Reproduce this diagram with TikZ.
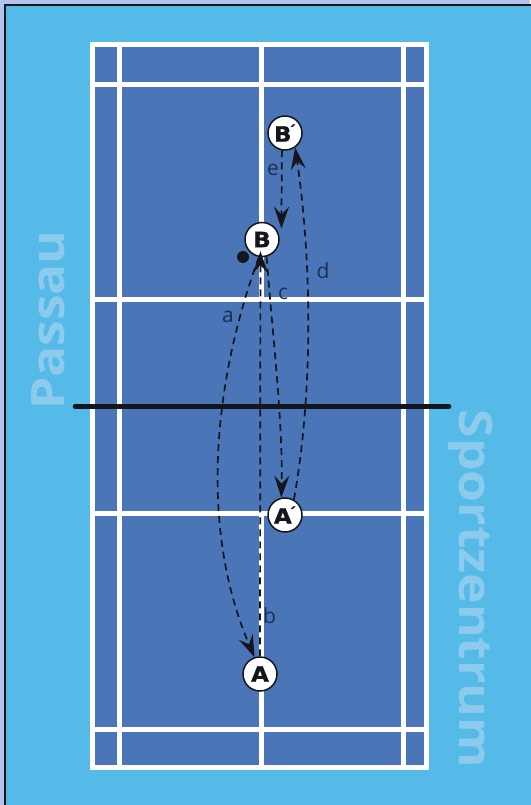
\documentclass[tikz,border=0pt]{standalone}
\usepackage{fontspec}
\setmainfont{Open Sans}
\newfontfamily\circfont[FakeStretch=1.1,FakeBold=1.2]{DejaVu Sans Bold}
\newfontfamily\wmfont[FakeStretch=1.12]{Open Sans Bold}
\usetikzlibrary{arrows.meta}
\definecolor{sky}{HTML}{56BAE8}
\definecolor{edgeblue}{HTML}{B2C5EA}
\definecolor{courtblue}{HTML}{4A75B7}
\definecolor{mark}{HTML}{8CCBEE}
\definecolor{inkblue}{HTML}{1D2F55}
\definecolor{inkblack}{HTML}{14161C}
\tikzset{
  courtline/.style={draw=white,line width=5pt},
  player/.style={circle,draw=inkblack,fill=white,line width=1.5pt,minimum size=34pt,inner sep=0pt,font=\circfont\fontsize{21}{21}\selectfont,text=inkblack},
  run/.style={draw=inkblack,line width=1.7pt,dash pattern=on 7pt off 5pt,-{Stealth[length=22pt,width=15pt,inset=8pt]}},
  lab/.style={text=inkblue,font=\fontsize{21}{21}\selectfont,inner sep=0pt},
  wmark/.style={text=mark,font=\wmfont\fontsize{46}{46}\selectfont,inner sep=0pt},
}
\newcommand{\primemark}{\raisebox{6pt}{\fontsize{14}{14}\selectfont\kern-1pt\'{}}}
\begin{document}
\begin{tikzpicture}[x=1pt,y=-1pt]
\useasboundingbox (0,0) rectangle (530,805);
\fill[edgeblue] (0,0) rectangle (530,805);
\fill[sky,draw=inkblack,line width=2pt] (5,5) rectangle (540,815);
% court
\fill[courtblue] (92.5,44.5) rectangle (426.5,767.5);
\draw[courtline] (92.5,44.5) rectangle (426.5,767.5);
\draw[courtline] (119.5,44.5) -- (119.5,767.5);
\draw[courtline] (403.5,44.5) -- (403.5,767.5);
\draw[courtline] (92.5,85) -- (426.5,85);
\draw[courtline] (92.5,729) -- (426.5,729);
\draw[courtline] (92.5,299) -- (426.5,299);
\draw[courtline] (92.5,513) -- (426.5,513);
\draw[courtline] (261,44.5) -- (261,299);
\draw[courtline] (261,513) -- (261,767.5);
% net
\coordinate (netL) at (75,406.5);
\coordinate (netR) at (449,406.5);
\draw[inkblack,line width=4.5pt,line cap=round] (netL) -- (netR);
% watermark
\node[wmark,rotate=90] (passau) at (48,320) {Passau};
\node[wmark,rotate=-90] (sport) at (471,589) {Sportzentrum};
% players
\node[player] (Bp) at (285,133) {B\primemark};
\node[player] (B) at (262,239.5) {B};
\node[player] (Ap) at (285,515) {A\primemark};
\node[player] (A) at (260,674) {A};
\node[circle,fill=inkblack,minimum size=12pt,inner sep=0pt] (ball) at (243,257) {};
% runs
\draw[run] (B.-100) .. controls (212,385) and (200,530) .. (A.108);
\draw[run] (A.90) -- ([yshift=6pt]B.-95);
\draw[run] (B.-75) .. controls (272,330) and (283,420) .. (Ap.102);
\draw[run] (Ap.60) .. controls (312,400) and (313,270) .. (Bp.-55);
\draw[run] (Bp.-100) -- ([shift={(4pt,2pt)}]B.30);
% labels
\node[lab] (la) at (228,317) {a};
\node[lab] (lb) at (269.5,616) {b};
\node[lab] (lc) at (283,294) {c};
\node[lab] (ld) at (323,271) {d};
\node[lab] (le) at (273,170) {e};
\end{tikzpicture}
\end{document}
